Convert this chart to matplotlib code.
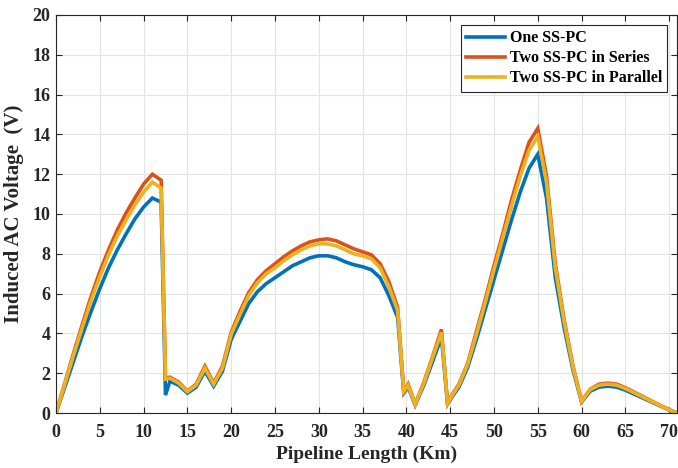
import matplotlib
matplotlib.use("Agg")
import matplotlib.pyplot as plt

km = [0, 1, 2, 3, 4, 5, 6, 7, 8, 9, 10, 11, 12, 12.5, 13, 14, 15, 16, 17, 18, 19,
      20, 21, 22, 23, 24, 25, 26, 27, 28, 29, 30, 31, 32, 33, 34, 35, 36, 37, 38, 39,
      39.7, 40.2, 41, 42, 43, 44, 44.7, 45.2, 46, 47, 48, 49, 50, 51, 52, 53, 54, 55,
      56, 57, 58, 59, 60, 61, 62, 63, 64, 65, 66, 67, 68, 69, 70, 70.9]

one_sspc = [0, 1.3, 2.6, 3.9, 5.1, 6.25, 7.3, 8.2, 9.0, 9.75, 10.35, 10.8, 10.6, 0.9, 1.6, 1.4, 1.0, 1.3, 2.1, 1.35, 2.1,
            3.7, 4.6, 5.5, 6.1, 6.5, 6.8, 7.1, 7.4, 7.6, 7.8, 7.9, 7.9, 7.8, 7.6, 7.45, 7.35, 7.2, 6.8, 5.9, 4.8,
            1.0, 1.3, 0.4, 1.4, 2.6, 3.8, 0.45, 0.8, 1.3, 2.3, 3.7, 5.2, 6.7, 8.2, 9.7, 11.1, 12.3, 13.0,
            10.8, 6.8, 4.3, 2.2, 0.55, 1.1, 1.3, 1.35, 1.3, 1.15, 0.95, 0.75, 0.55, 0.35, 0.15, 0]

two_series = [0, 1.5, 3.0, 4.45, 5.85, 7.1, 8.2, 9.2, 10.05, 10.8, 11.5, 12.0, 11.7, 1.75, 1.8, 1.55, 1.1, 1.45, 2.35, 1.5, 2.35,
              4.05, 5.1, 6.05, 6.7, 7.15, 7.5, 7.85, 8.15, 8.4, 8.6, 8.7, 8.75, 8.65, 8.45, 8.25, 8.1, 7.95, 7.5, 6.6, 5.3,
              1.1, 1.45, 0.45, 1.55, 2.85, 4.2, 0.5, 0.9, 1.45, 2.5, 4.1, 5.7, 7.4, 9.0, 10.7, 12.2, 13.6, 14.3,
              11.9, 7.5, 4.7, 2.4, 0.6, 1.2, 1.45, 1.5, 1.45, 1.27, 1.05, 0.83, 0.6, 0.38, 0.17, 0]

two_parallel = [0, 1.45, 2.9, 4.3, 5.65, 6.85, 7.95, 8.9, 9.7, 10.45, 11.1, 11.6, 11.3, 1.7, 1.75, 1.5, 1.07, 1.4, 2.25, 1.45, 2.25,
                3.95, 4.95, 5.9, 6.55, 7.0, 7.3, 7.65, 7.95, 8.2, 8.4, 8.5, 8.5, 8.4, 8.2, 8.0, 7.9, 7.75, 7.3, 6.35, 5.15,
                1.07, 1.4, 0.43, 1.5, 2.8, 4.05, 0.48, 0.86, 1.4, 2.45, 3.95, 5.55, 7.2, 8.8, 10.4, 11.9, 13.2, 13.9,
                11.6, 7.3, 4.6, 2.35, 0.58, 1.18, 1.4, 1.45, 1.4, 1.23, 1.02, 0.8, 0.58, 0.37, 0.16, 0]

labels = ["One SS-PC", "Two SS-PC in Series", "Two SS-PC in Parallel"]
colors = ["#0072BD", "#D95319", "#EDB120"]
xticks = list(range(0, 75, 5))
yticks = list(range(0, 22, 2))

plt.rcParams['font.family'] = ['Liberation Serif', 'DejaVu Serif']

fig = plt.figure(figsize=(6.78, 4.68), dpi=100)
ax = fig.add_axes([0.0826, 0.1175, 0.916, 0.8505])

for y, lab, c in zip([one_sspc, two_series, two_parallel], labels, colors):
    ax.plot(km, y, color=c, lw=2.6, label=lab, solid_joinstyle='miter')

ax.set_xlim(0, 70.9)
ax.set_ylim(0, 20)
ax.set_xticks(xticks)
ax.set_yticks(yticks)
ax.tick_params(direction='in', length=4, width=0.8, top=True, right=True, colors='#262626')
ax.tick_params(axis='x', pad=8)
ax.tick_params(axis='y', pad=4)
for t in ax.get_xticklabels() + ax.get_yticklabels():
    t.set_fontsize(13)
    t.set_fontweight('bold')
    t.set_color('#262626')
ax.grid(True, color='#E3E3E3', lw=0.8)
ax.set_axisbelow(True)
for s in ax.spines.values():
    s.set_color('#262626')
    s.set_linewidth(0.8)

ax.set_xlabel("Pipeline Length (Km)", fontsize=14, fontweight='bold', labelpad=3, color='#262626')
ax.set_ylabel("Induced AC Voltage  (V)", fontsize=15, fontweight='bold', labelpad=6, color='#262626')

leg = ax.legend(loc='upper right', prop={'weight': 'bold', 'size': 11.5},
                fancybox=False, edgecolor='#262626', framealpha=1, handlelength=2.4,
                handletextpad=0.3, borderpad=0.35, labelspacing=0.25, borderaxespad=0.6)
leg.get_frame().set_linewidth(0.8)

fig.savefig("out.png", dpi=100)
